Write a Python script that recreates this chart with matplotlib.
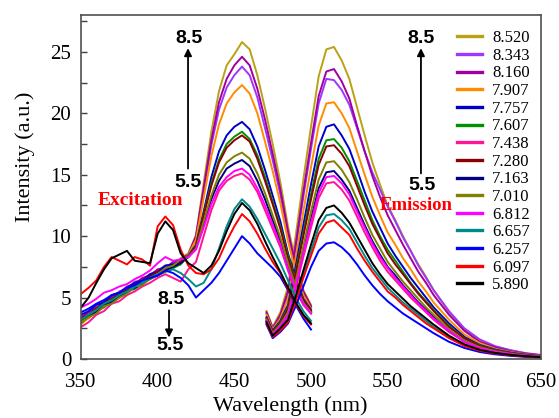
import numpy as np
import matplotlib
matplotlib.use("Agg")
import matplotlib.pyplot as plt
from matplotlib.ticker import MultipleLocator

plt.rcParams['font.family'] = ['Liberation Serif', 'DejaVu Serif']

# pH values shown in the legend (top to bottom)
labels = ["8.520", "8.343", "8.160", "7.907", "7.757", "7.607", "7.438", "7.280",
          "7.163", "7.010", "6.812", "6.657", "6.257", "6.097", "5.890"]
colors = ["#B8A214", "#A035FF", "#A000A0", "#FF8C00", "#0000C8", "#009000", "#FF1493",
          "#8B0000", "#000080", "#808000", "#FF00FF", "#008B8B", "#0000FF", "#FF0000",
          "#000000"]

# excitation spectra, 350-500 nm every 5 nm
ex_wl = np.arange(350, 505, 5)
ex_8520 = [3.0, 3.3, 3.9, 4.6, 4.7, 5.3, 5.4, 6.1, 6.2, 6.9, 6.8, 7.5, 7.4, 8.2,
           8.6, 10.1, 14.3, 18.5, 21.8, 23.9, 24.8, 25.8, 25.2, 23.1, 20.4, 17.5, 14.4, 10.8, 7.8, 5.6, 4.4]
ex_8343 = [3.2, 3.9, 4.1, 4.7, 4.9, 5.5, 5.7, 6.3, 6.4, 6.9, 7.2, 7.6, 7.7, 8.1,
           8.5, 9.9, 13.6, 17.4, 20.3, 22.1, 23.1, 23.8, 23.1, 21.3, 18.8, 16.2, 13.4, 10.2, 7.4, 5.4, 4.2]
ex_8160 = [3.4, 3.8, 4.2, 4.5, 5.1, 5.4, 5.9, 6.1, 6.6, 6.8, 7.3, 7.4, 7.9, 8.1,
           8.5, 10.0, 13.9, 17.8, 20.9, 22.8, 23.9, 24.6, 23.9, 22.0, 19.5, 16.7, 13.8, 10.4, 7.6, 5.5, 4.3]
ex_7907 = [2.8, 3.4, 3.8, 4.3, 4.6, 5.1, 5.4, 5.8, 6.2, 6.5, 6.9, 7.1, 7.6, 7.8,
           8.5, 9.7, 13.1, 16.5, 19.1, 20.8, 21.7, 22.3, 21.6, 20.0, 17.7, 15.3, 12.7, 9.6, 7.1, 5.2, 4.1]
ex_7757 = [3.6, 3.9, 4.4, 4.6, 5.2, 5.4, 5.8, 6.2, 6.4, 6.9, 7.1, 7.6, 7.7, 8.0,
           8.4, 9.3, 12.0, 14.8, 16.9, 18.2, 18.9, 19.3, 18.7, 17.3, 15.4, 13.3, 11.2, 8.6, 6.5, 4.9, 4.0]
ex_7607 = [2.9, 3.5, 3.9, 4.2, 4.7, 5.0, 5.5, 5.7, 6.1, 6.5, 6.8, 7.1, 7.4, 7.7,
           8.4, 9.2, 11.8, 14.3, 16.2, 17.5, 18.1, 18.5, 17.9, 16.6, 14.8, 12.8, 10.8, 8.4, 6.3, 4.8, 3.9]
ex_7438 = [2.6, 3.0, 3.6, 3.9, 4.5, 4.7, 5.2, 5.5, 5.9, 6.2, 6.6, 6.9, 6.6, 6.3,
           7.3, 7.9, 10.0, 12.1, 13.7, 14.5, 14.9, 15.1, 14.6, 13.6, 12.1, 10.6, 9.1, 7.2, 5.6, 4.4, 3.7]
ex_7280 = [3.3, 3.6, 4.1, 4.5, 4.9, 5.3, 5.6, 6.0, 6.4, 6.7, 7.1, 7.3, 7.6, 7.9,
           8.3, 9.2, 11.7, 14.1, 16.0, 17.2, 17.8, 18.2, 17.7, 16.3, 14.5, 12.6, 10.6, 8.2, 6.2, 4.8, 3.9]
ex_7163 = [3.1, 3.5, 3.8, 4.4, 4.6, 5.1, 5.5, 5.8, 6.1, 6.6, 6.8, 7.2, 7.5, 7.8,
           8.3, 9.0, 11.0, 13.0, 14.5, 15.5, 15.9, 16.2, 15.7, 14.5, 13.0, 11.3, 9.6, 7.6, 5.8, 4.6, 3.8]
ex_7010 = [3.0, 3.4, 3.7, 4.3, 4.5, 5.0, 5.3, 5.9, 6.0, 6.6, 6.9, 7.4, 7.6, 8.1,
           8.3, 9.0, 11.2, 13.3, 15.0, 16.0, 16.5, 16.8, 16.3, 15.1, 13.5, 11.7, 9.9, 7.8, 5.9, 4.6, 3.8]
ex_6812 = [4.2, 4.5, 4.9, 5.4, 5.6, 5.9, 6.1, 6.5, 6.8, 7.2, 7.8, 8.3, 8.0, 8.1,
           8.3, 8.9, 10.7, 12.6, 14.0, 14.8, 15.3, 15.5, 15.0, 13.9, 12.5, 10.9, 9.3, 7.3, 5.7, 4.5, 3.7]
ex_6657 = [3.2, 3.6, 4.0, 4.5, 4.8, 5.2, 5.5, 5.9, 6.2, 6.6, 6.9, 7.1, 7.3, 7.0,
           6.5, 5.9, 6.2, 7.3, 9.0, 10.8, 12.2, 13.0, 12.4, 11.4, 10.2, 9.0, 7.8, 6.4, 5.0, 3.9, 3.1]
ex_6257 = [3.8, 4.1, 4.5, 4.8, 5.2, 5.4, 5.8, 6.0, 6.4, 6.6, 6.8, 7.2, 7.0, 6.6,
           6.0, 5.0, 5.6, 6.2, 7.0, 8.0, 9.0, 10.0, 9.4, 8.6, 8.0, 7.4, 6.7, 5.6, 4.4, 3.3, 2.4]
ex_6097 = [5.3, 5.8, 6.4, 7.5, 8.3, 8.0, 7.7, 8.3, 8.1, 7.6, 10.8, 11.6, 10.9, 8.9,
           7.6, 7.0, 6.9, 7.3, 8.2, 9.6, 10.8, 11.8, 11.2, 10.2, 9.0, 7.9, 7.0, 5.7, 4.5, 3.5, 2.8]
ex_5890 = [4.2, 5.0, 6.2, 7.3, 8.2, 8.5, 8.8, 8.0, 7.9, 7.8, 10.2, 11.2, 10.5, 8.6,
           7.8, 7.4, 7.0, 7.6, 8.8, 10.4, 11.8, 12.7, 12.1, 11.0, 9.6, 8.3, 7.1, 5.8, 4.6, 3.6, 2.9]

# emission spectra, 471-650 nm
em_wl = [471, 475, 480, 485, 490, 495, 500, 505, 510, 515, 520, 525, 530, 535, 540,
         545, 550, 555, 560, 565, 570, 575, 580, 590, 600, 610, 620, 630, 640, 650]
em_8520 = [3.9, 2.6, 3.8, 5.9, 10.0, 14.6, 18.9, 23.0, 25.2, 25.4, 24.3, 22.8, 20.5, 18.2, 16.0,
           14.2, 12.5, 11.3, 10.0, 8.8, 7.7, 6.7, 5.6, 3.8, 2.4, 1.5, 1.0, 0.7, 0.46, 0.31]
em_8343 = [3.7, 2.5, 3.5, 5.3, 9.0, 13.2, 17.1, 20.8, 22.8, 22.7, 21.9, 20.7, 18.8, 16.9, 15.2,
           13.8, 12.4, 11.2, 9.9, 8.8, 7.6, 6.6, 5.6, 3.9, 2.5, 1.6, 1.05, 0.72, 0.48, 0.33]
em_8160 = [3.8, 2.5, 3.6, 5.5, 9.3, 13.6, 17.6, 21.4, 23.4, 23.6, 22.6, 21.2, 19.0, 16.9, 14.9,
           13.2, 11.7, 10.5, 9.3, 8.2, 7.1, 6.2, 5.2, 3.6, 2.3, 1.4, 0.95, 0.64, 0.43, 0.29]
em_7907 = [3.6, 2.4, 3.3, 4.9, 8.2, 12.0, 15.6, 19.0, 20.8, 20.9, 20.0, 18.8, 16.9, 15.0, 13.2,
           11.7, 10.3, 9.3, 8.2, 7.3, 6.3, 5.5, 4.6, 3.2, 2.0, 1.3, 0.84, 0.57, 0.38, 0.25]
em_7757 = [3.4, 2.3, 3.1, 4.4, 7.5, 10.9, 14.2, 17.3, 18.9, 19.1, 18.2, 17.1, 15.4, 13.6, 12.0,
           10.7, 9.4, 8.4, 7.5, 6.6, 5.8, 5.0, 4.2, 2.9, 1.8, 1.15, 0.77, 0.52, 0.35, 0.23]
em_7607 = [3.3, 2.2, 3.0, 4.2, 7.1, 10.3, 13.4, 16.3, 17.8, 17.9, 17.2, 16.1, 14.5, 12.9, 11.3,
           10.0, 8.9, 8.0, 7.1, 6.2, 5.4, 4.7, 4.0, 2.7, 1.7, 1.1, 0.72, 0.49, 0.33, 0.22]
em_7438 = [3.1, 2.0, 2.6, 3.5, 5.7, 8.3, 10.7, 13.1, 14.3, 14.4, 13.8, 12.9, 11.6, 10.3, 9.1,
           8.0, 7.1, 6.4, 5.7, 5.0, 4.4, 3.8, 3.2, 2.2, 1.4, 0.87, 0.58, 0.39, 0.26, 0.17]
em_7280 = [3.3, 2.2, 2.9, 4.1, 6.9, 10.0, 13.0, 15.8, 17.3, 17.4, 16.7, 15.7, 14.1, 12.5, 11.0,
           9.8, 8.6, 7.7, 6.9, 6.1, 5.3, 4.6, 3.9, 2.6, 1.7, 1.06, 0.70, 0.48, 0.32, 0.21]
em_7163 = [3.1, 2.0, 2.7, 3.6, 6.0, 8.8, 11.4, 13.9, 15.2, 15.3, 14.6, 13.7, 12.3, 10.9, 9.6,
           8.5, 7.5, 6.8, 6.0, 5.3, 4.6, 4.0, 3.4, 2.3, 1.5, 0.92, 0.62, 0.42, 0.28, 0.18]
em_7010 = [3.2, 2.1, 2.8, 3.8, 6.3, 9.2, 12.0, 14.6, 16.0, 16.1, 15.4, 14.4, 13.0, 11.5, 10.1,
           9.0, 7.9, 7.1, 6.3, 5.6, 4.9, 4.2, 3.6, 2.4, 1.5, 0.97, 0.65, 0.44, 0.29, 0.19]
em_6812 = [3.1, 2.0, 2.7, 3.6, 5.9, 8.6, 11.1, 13.5, 14.8, 14.9, 14.3, 13.4, 12.0, 10.7, 9.4,
           8.3, 7.4, 6.6, 5.9, 5.2, 4.5, 3.9, 3.3, 2.3, 1.4, 0.90, 0.60, 0.41, 0.27, 0.18]
em_6657 = [2.9, 1.8, 2.4, 3.1, 4.9, 6.9, 8.8, 10.7, 11.7, 11.8, 11.3, 10.6, 9.5, 8.4, 7.4,
           6.6, 5.8, 5.2, 4.6, 4.1, 3.6, 3.1, 2.6, 1.8, 1.1, 0.71, 0.48, 0.32, 0.21, 0.14]
em_6257 = [2.8, 1.7, 2.2, 2.9, 4.3, 5.9, 7.5, 8.8, 9.4, 9.5, 9.1, 8.5, 7.7, 6.8, 6.0,
           5.3, 4.7, 4.2, 3.7, 3.3, 2.9, 2.5, 2.1, 1.4, 0.9, 0.57, 0.38, 0.26, 0.17, 0.11]
em_6097 = [2.9, 1.8, 2.3, 3.0, 4.7, 6.6, 8.4, 10.2, 11.1, 11.3, 10.7, 10.1, 9.0, 8.0, 7.1,
           6.3, 5.5, 5.0, 4.4, 3.9, 3.4, 2.9, 2.5, 1.7, 1.07, 0.68, 0.45, 0.31, 0.20, 0.14]
em_5890 = [3.0, 1.9, 2.5, 3.2, 5.1, 7.2, 9.3, 11.3, 12.3, 12.5, 11.9, 11.1, 10.0, 8.9, 7.8,
           6.9, 6.1, 5.5, 4.9, 4.3, 3.8, 3.3, 2.8, 1.9, 1.2, 0.75, 0.50, 0.34, 0.23, 0.15]

ex_all = [ex_8520, ex_8343, ex_8160, ex_7907, ex_7757, ex_7607, ex_7438, ex_7280,
          ex_7163, ex_7010, ex_6812, ex_6657, ex_6257, ex_6097, ex_5890]
em_all = [em_8520, em_8343, em_8160, em_7907, em_7757, em_7607, em_7438, em_7280,
          em_7163, em_7010, em_6812, em_6657, em_6257, em_6097, em_5890]

fig = plt.figure(figsize=(5.59, 4.18), dpi=100)
ax = fig.add_axes([81/559, 1 - 359/418, 460/559, 344/418])

for lab, col, ex, em in zip(labels, colors, ex_all, em_all):
    ax.plot(ex_wl, ex, color=col, lw=1.4, label=lab)
    ax.plot(em_wl, em, color=col, lw=1.4)

ax.set_xlim(350, 650)
ax.set_ylim(0, 28)
ax.xaxis.set_major_locator(MultipleLocator(50))
ax.yaxis.set_major_locator(MultipleLocator(5))
ax.yaxis.set_minor_locator(MultipleLocator(2.5))
ax.tick_params(axis='y', which='both', direction='in', length=4, width=1,
               labelsize=15, pad=7, color='#404040')
ax.tick_params(axis='x', which='both', length=0, labelsize=15, pad=10)
for s in ax.spines.values():
    s.set_linewidth(1.2)
    s.set_color('#505050')

ax.set_xlabel("Wavelength (nm)", fontsize=16, va='center')
ax.xaxis.set_label_coords(0.454, -0.137)
ax.set_ylabel("Intensity (a.u.)", fontsize=16, va='center')
ax.yaxis.set_label_coords(-0.122, 0.587)

leg = ax.legend(loc='upper left', bbox_to_anchor=(457/559, 1 - 30/418),
                bbox_transform=fig.transFigure, frameon=False, fontsize=12,
                borderpad=0, borderaxespad=0, handlelength=1.5, handletextpad=0.6,
                labelspacing=0.1)
for ln in leg.get_lines():
    ln.set_linewidth(2.4)

# pH arrows
bold = dict(family=['Liberation Sans', 'DejaVu Sans'], fontweight='bold', fontsize=14,
            ha='center', va='center', color='black')
arrow = dict(arrowstyle='-|>', lw=1.3, color='black', mutation_scale=11,
             shrinkA=0, shrinkB=0)
ax.annotate("", xy=(419.8, 25.3), xytext=(419.8, 15.5), arrowprops=arrow)
ax.text(420.4, 26.1, "8.5", **bold)
ax.text(419.8, 14.4, "5.5", **bold)
ax.annotate("", xy=(571.7, 25.3), xytext=(571.7, 15.1), arrowprops=arrow)
ax.text(571.7, 26.1, "8.5", **bold)
ax.text(572.4, 14.15, "5.5", **bold)
ax.annotate("", xy=(407.4, 1.75), xytext=(407.4, 3.96), arrowprops=arrow)
ax.text(408.7, 4.85, "8.5", **bold)
ax.text(408.0, 1.1, "5.5", **bold)

ax.text(388.5, 12.9, "Excitation", color='red', fontweight='bold', fontsize=14,
        ha='center', va='center')
ax.text(545, 12.5, "Emission", color='red', fontweight='bold', fontsize=13.5,
        ha='left', va='center')

fig.savefig("out.png", dpi=100)
